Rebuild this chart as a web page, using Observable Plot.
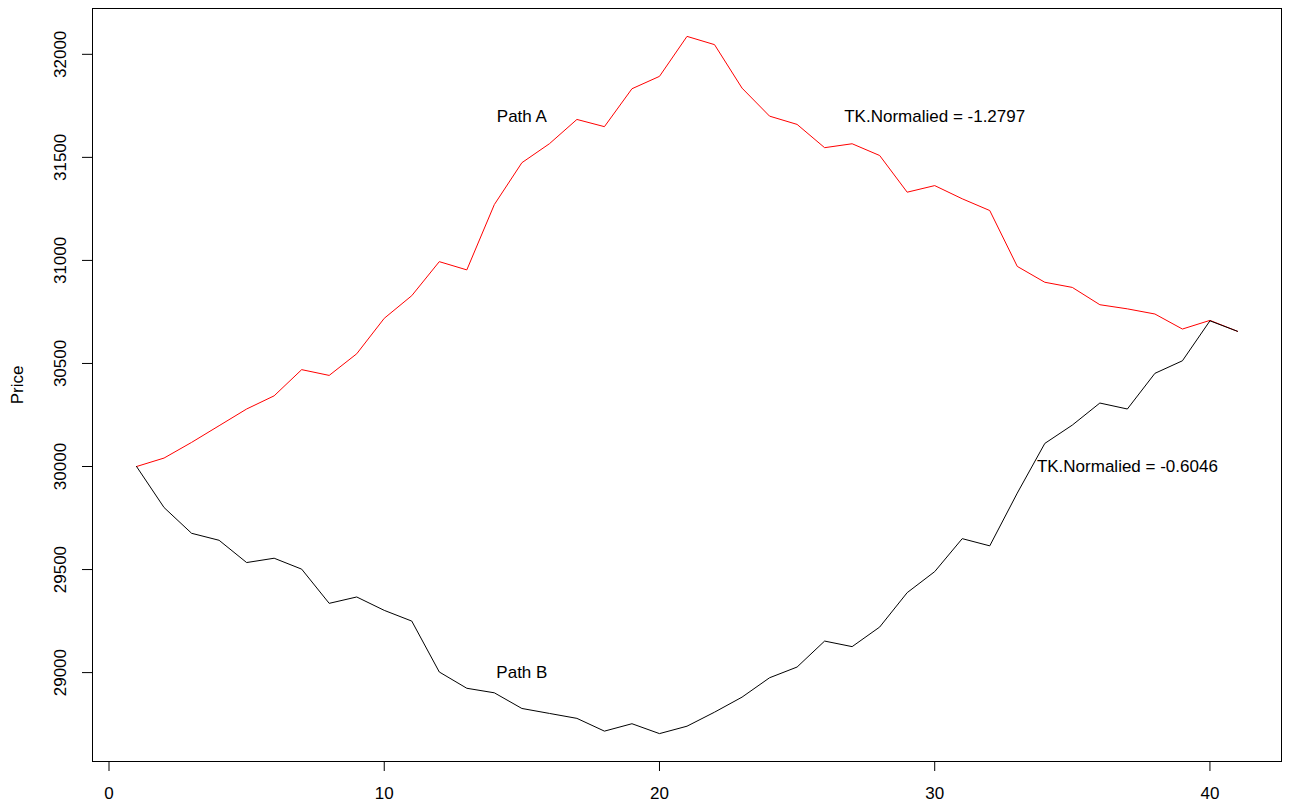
<!DOCTYPE html>
<html>
<head>
<meta charset="utf-8">
<script src="https://cdn.jsdelivr.net/npm/d3@7"></script>
<script src="https://cdn.jsdelivr.net/npm/@observablehq/plot@0.6"></script>
<style>
  html, body { margin: 0; padding: 0; background: #fff; }
  #chart { width: 1290px; height: 807px; }
  svg { font-family: "Liberation Sans", Arial, sans-serif; }
</style>
</head>
<body>
<div id="chart"></div>
<script>
// step index along the x axis
const steps = [1,2,3,4,5,6,7,8,9,10,11,12,13,14,15,16,17,18,19,20,21,22,23,24,25,26,27,28,29,30,31,32,33,34,35,36,37,38,39,40,41];
// Path A (red)
const pathA = [30000,30041,30117,30198,30279,30343,30470,30442,30547,30719,30829,30994,30954,31271,31474,31566,31684,31649,31833,31893,32087,32047,31836,31700,31660,31547,31566,31509,31331,31363,31299,31242,30971,30894,30869,30785,30765,30740,30667,30709,30656];
// Path B (black)
const pathB = [30000,29801,29676,29642,29534,29555,29502,29336,29367,29302,29250,29003,28924,28902,28826,28802,28778,28716,28752,28704,28740,28808,28881,28975,29027,29153,29126,29221,29388,29490,29650,29615,29871,30112,30201,30308,30279,30452,30513,30707,30656];
// tick labels
const xTicks = [0,10,20,30,40];
const yTicks = [29000,29500,30000,30500,31000,31500,32000];
// annotations
const annX = [15, 15, 30, 37];
const annY = [31700, 29000, 31700, 30000];
const annText = ["Path A", "Path B", "TK.Normalied = -1.2797", "TK.Normalied = -0.6046"];

const dataA = steps.map((s, i) => ({x: s, y: pathA[i]}));
const dataB = steps.map((s, i) => ({x: s, y: pathB[i]}));
const ann = annText.map((t, i) => ({x: annX[i], y: annY[i], t}));

const xMin = d3.min(steps), xMax = d3.max(steps);
const yMin = d3.min([...pathA, ...pathB]), yMax = d3.max([...pathA, ...pathB]);
const xPad = (xMax - xMin) * 0.04, yPad = (yMax - yMin) * 0.04;

const chart = Plot.plot({
  width: 1290,
  height: 807,
  marginLeft: 92,
  marginRight: 9,
  marginTop: 8,
  marginBottom: 46,
  style: {fontFamily: "'Liberation Sans', Arial, sans-serif", fontSize: "17px", color: "#000", background: "#fff"},
  x: {domain: [xMin - xPad, xMax + xPad]},
  y: {domain: [yMin - yPad, yMax + yPad]},
  marks: [
    Plot.line(dataA, {x: "x", y: "y", stroke: "#ff0000", strokeWidth: 1}),
    Plot.line(dataB, {x: "x", y: "y", stroke: "#000", strokeWidth: 1}),
    Plot.text(ann, {x: "x", y: "y", text: "t", fontSize: 17, fill: "#000"}),
    Plot.frame({stroke: "#000", strokeWidth: 1}),
    Plot.axisX({ticks: xTicks, tickFormat: d3.format("d"), tickSize: 10, tickPadding: 15, fontSize: 17, label: null, stroke: "#000"}),
    Plot.axisY({ticks: yTicks, tickFormat: d3.format("d"), tickSize: 10, tickPadding: 17, tickRotate: -90, fontSize: 17, label: "Price", labelAnchor: "center", labelArrow: false, labelOffset: 82, stroke: "#000"})
  ]
});
document.getElementById("chart").appendChild(chart);
</script>
</body>
</html>
